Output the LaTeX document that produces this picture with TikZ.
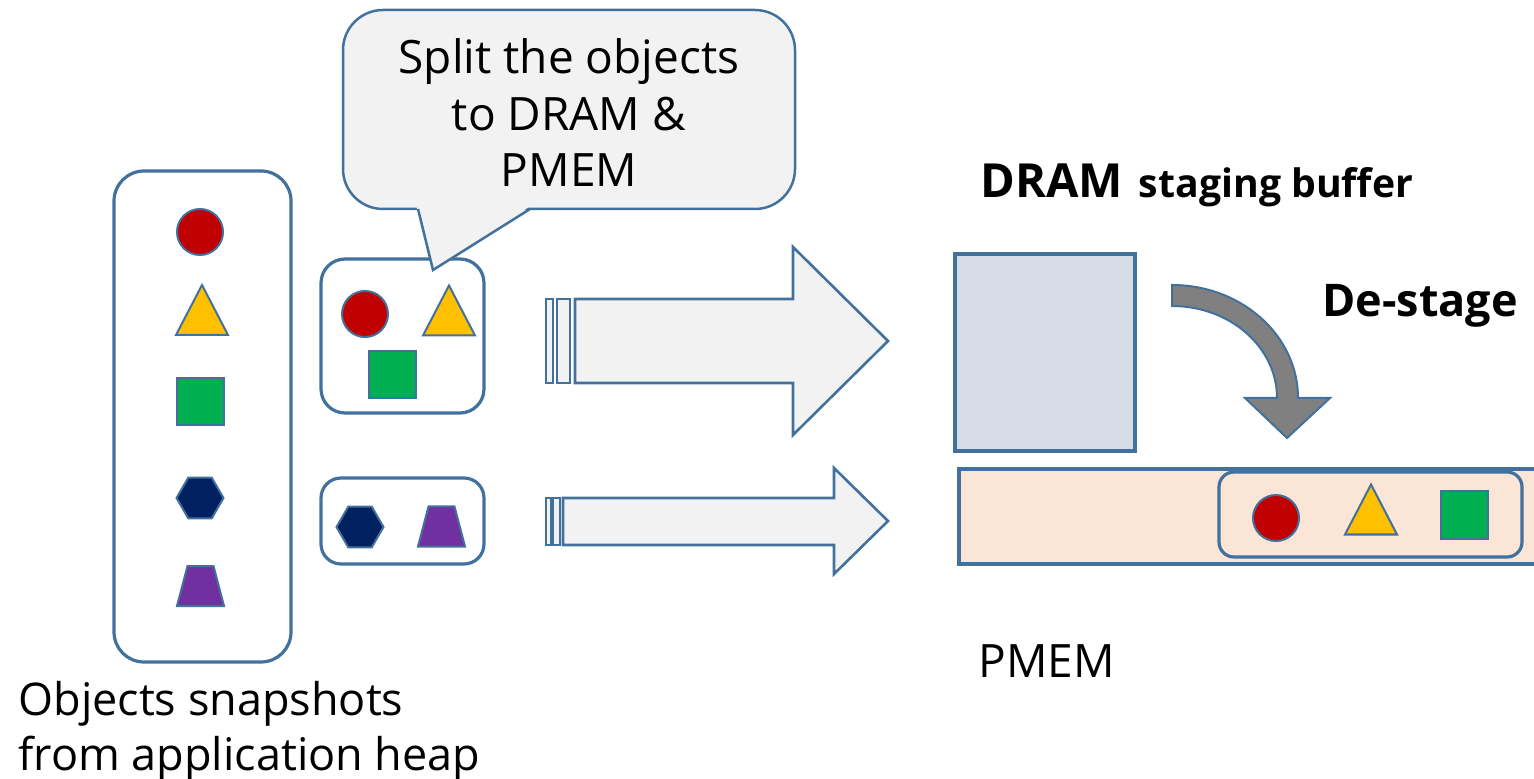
\documentclass[tikz,border=0pt]{standalone}
\usepackage{fontspec}
\setmainfont{Open Sans}
\usetikzlibrary{arrows.meta,positioning,fit,shapes.geometric}
\definecolor{edgeblue}{HTML}{41719C}
\definecolor{objred}{HTML}{C00000}
\definecolor{objyellow}{HTML}{FFC000}
\definecolor{objgreen}{HTML}{00B050}
\definecolor{objnavy}{HTML}{002060}
\definecolor{objpurple}{HTML}{7030A0}
\definecolor{calloutgray}{HTML}{F2F2F2}
\definecolor{dramfill}{HTML}{D6DCE5}
\definecolor{pmemfill}{HTML}{FBE5D6}
\definecolor{destage}{HTML}{808080}
\tikzset{
  >=Latex,
  every node/.style={text=black},
  holder/.style={draw=edgeblue,line width=1.6pt,rounded corners=12pt,inner sep=0pt},
  heapbox/.style={holder,rounded corners=15pt},
  obj/.style={draw=edgeblue,line width=1pt,inner sep=0pt,outer sep=0pt},
  redobj/.style={obj,circle,fill=objred,minimum size=23pt},
  greenobj/.style={obj,rectangle,fill=objgreen,minimum size=23.5pt},
  navyobj/.style={obj,regular polygon,regular polygon sides=6,fill=objnavy,minimum size=23.5pt},
  membox/.style={draw=edgeblue,line width=1.6pt,inner sep=0pt},
  callout/.style={draw=edgeblue,line width=1.25pt,fill=calloutgray,rounded corners=20pt,inner sep=0pt},
  blockarr/.style={draw=edgeblue,line width=1.3pt,fill=calloutgray},
  destagearr/.style={draw=edgeblue,line width=1pt,fill=destage},
  bigtext/.style={font=\fontsize{22.5}{27.5}\selectfont,align=left,inner sep=0pt},
  boldtext/.style={font=\bfseries,inner sep=0pt},
}
\newcommand{\yellowtri}[2]{\draw[obj,fill=objyellow] (#1,#2) ++(0,-25) -- ++(26,50) -- ++(-52,0) -- cycle;}
\newcommand{\purpletrap}[2]{\draw[obj,fill=objpurple] (#1,#2) ++(-13,-20) -- ++(26,0) -- ++(10.5,40) -- ++(-47,0) -- cycle;}

\begin{document}
\begin{tikzpicture}[x=0.5pt,y=-0.5pt]
  \useasboundingbox (0,0) rectangle (1534,779);

  % Heap snapshot
  \node[heapbox,fit={(114,171) (291,662)}] (heap) {};
  \node[redobj] (h1) at (200,232) {};
  \yellowtri{202}{310}
  \node[greenobj] (h3) at (200.5,401.5) {};
  \node[navyobj] (h4) at (200,498) {};
  \purpletrap{200.5}{586}
  \node[bigtext,anchor=base west] (heaplbl) at (18,770) {Objects snapshots\\from application heap};

  % Split groups
  \node[holder,fit={(321,259) (484,413)}] (grpd) {};
  \node[redobj] (d1) at (365,314) {};
  \yellowtri{449}{310.5}
  \node[greenobj] (d3) at (392.5,375) {};
  \node[holder,rounded corners=10pt,fit={(321,478) (484,564)}] (grpp) {};
  \node[navyobj] (p1) at (360,527) {};
  \purpletrap{441.5}{526.5}

  % Callout
  \node[callout,fit={(343,10) (795,209)}] (split) {};
  \fill[calloutgray] (416,205) -- (433,270) -- (532,205) -- cycle;
  \draw[edgeblue,line width=1.25pt] (418,209) -- (433,270) -- (530,209);
  \node[font=\fontsize{23}{28.25}\selectfont,align=center,inner sep=0pt] (splittxt) at (569,113) {Split the objects\\to DRAM \&\\PMEM};

  % Striped arrows
  \draw[blockarr] (546,299) rectangle (553,383);
  \draw[blockarr] (557,299) rectangle (570,383);
  \draw[blockarr] (575,299) -- (793,299) -- (793,247) -- (888,341) -- (793,435) -- (793,383) -- (575,383) -- cycle;
  \draw[blockarr] (546,498) rectangle (551,545);
  \draw[blockarr] (553,498) rectangle (560,545);
  \draw[blockarr] (563,498) -- (834,498) -- (834,468) -- (888,521) -- (834,574) -- (834,545) -- (563,545) -- cycle;

  % Memory
  \node[membox,fill=dramfill,fit={(955,254) (1135,451)}] (dram) {};
  \node[membox,fill=pmemfill,fit={(959,469) (1550,564)}] (pmem) {};
  \node[holder,rounded corners=7.5pt,fit={(1219,472) (1522,557)}] (staged) {};
  \node[redobj] (s1) at (1276,518) {};
  \yellowtri{1371}{509.5}
  \node[greenobj] (s3) at (1464.5,515) {};
  \node[boldtext,anchor=base west] (dramlbl) at (980,198) {{\fontsize{23.5}{28}\selectfont DRAM}\hspace{8pt}{\fontsize{19.6}{24}\selectfont staging buffer}};
  \node[bigtext,anchor=base west,font=\fontsize{23}{27.5}\selectfont] (pmemlbl) at (978,677) {PMEM};

  % De-stage
  \draw[destagearr] (1172,285) arc[start angle=-90,end angle=0,x radius=126,y radius=113] -- (1330,398) -- (1287,438) -- (1245,398) -- (1277,398) arc[start angle=0,end angle=-90,x radius=105,y radius=92] -- cycle;
  \node[boldtext,anchor=base west,font=\fontsize{22.5}{27}\selectfont\bfseries] (destagelbl) at (1322,317) {De-stage};
\end{tikzpicture}
\end{document}
